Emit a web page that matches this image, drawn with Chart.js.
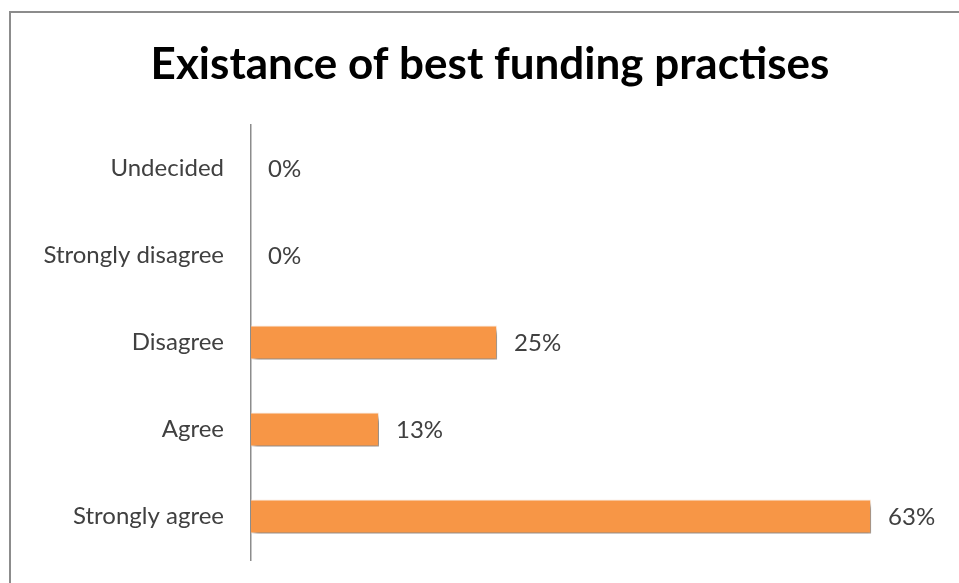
<!DOCTYPE html>
<html>
<head>
<meta charset="utf-8">
<script src="https://cdn.jsdelivr.net/npm/chart.js@4.4.0/dist/chart.umd.min.js"></script>
<style>
  html, body { margin: 0; padding: 0; background: #fff; overflow: hidden; }
  #wrap { position: relative; width: 959px; height: 583px; }
  #frame { position: absolute; left: 9px; top: 11px; width: 1000px; height: 700px; border: 2px solid #8c8c8c; box-sizing: border-box; }
  canvas { position: absolute; left: 0; top: 0; }
</style>
</head>
<body>
<div id="wrap">
  <div id="frame"></div>
  <canvas id="c" width="959" height="583"></canvas>
</div>
<script>
const categories = ["Undecided", "Strongly disagree", "Disagree", "Agree", "Strongly agree"];
const values = [0, 0, 25, 13, 63];
const valueLabels = ["0%", "0%", "25%", "13%", "63%"];
const chartTitle = "Existance of best funding practises";

const FONT = 'Lato, "Open Sans", sans-serif';

const shadowPlugin = {
  id: 'barShadow',
  beforeDatasetDraw(chart) {
    const ctx = chart.ctx;
    ctx.save();
    ctx.shadowColor = 'rgba(0,0,0,0.5)';
    ctx.shadowBlur = 5;
    ctx.shadowOffsetX = 3;
    ctx.shadowOffsetY = 4;
  },
  afterDatasetDraw(chart) {
    chart.ctx.restore();
  }
};

const titlePlugin = {
  id: 'customTitle',
  afterDraw(chart) {
    const ctx = chart.ctx;
    ctx.save();
    ctx.font = 'bold 44px ' + FONT;
    ctx.fillStyle = '#000';
    ctx.textAlign = 'center';
    ctx.textBaseline = 'middle';
    ctx.fillText(chartTitle, 490, 65);
    ctx.restore();
  }
};

const valueLabelPlugin = {
  id: 'valueLabels',
  afterDatasetsDraw(chart) {
    const ctx = chart.ctx;
    const meta = chart.getDatasetMeta(0);
    ctx.save();
    ctx.font = '24px ' + FONT;
    ctx.fillStyle = '#404040';
    ctx.textAlign = 'left';
    ctx.textBaseline = 'middle';
    meta.data.forEach((bar, i) => {
      ctx.fillText(valueLabels[i], bar.x + 17, bar.y + 1);
    });
    ctx.restore();
  }
};

new Chart(document.getElementById('c'), {
  type: 'bar',
  data: {
    labels: categories,
    datasets: [{
      data: values,
      backgroundColor: '#F79646',
      borderColor: 'rgba(255,235,220,0.9)',
      borderWidth: 1,
      borderSkipped: 'left',
      categoryPercentage: 1.0,
      barPercentage: 0.39
    }]
  },
  options: {
    indexAxis: 'y',
    responsive: false,
    animation: false,
    layout: { padding: { top: 125, right: 19, bottom: 23, left: 0 } },
    plugins: {
      legend: { display: false },
      tooltip: { enabled: false },
      title: { display: false }
    },
    scales: {
      x: {
        display: false,
        min: 0,
        max: 70
      },
      y: {
        afterFit(scale) {
          scale.width = 251;
          scale.paddingTop = 0;
          scale.paddingBottom = 0;
        },
        grid: { display: false, drawTicks: false },
        border: { display: true, color: '#8c8c8c', width: 1.5 },
        ticks: {
          color: '#404040',
          padding: 27,
          font: { family: FONT, size: 24 }
        }
      }
    }
  },
  plugins: [shadowPlugin, valueLabelPlugin, titlePlugin]
});
</script>
</body>
</html>
